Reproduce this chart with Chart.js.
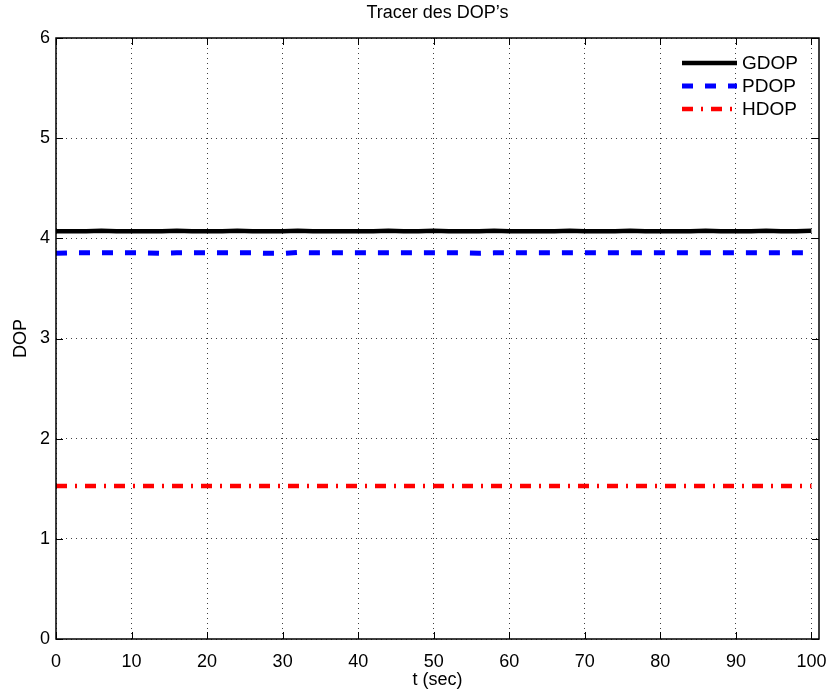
<!DOCTYPE html>
<html>
<head>
<meta charset="utf-8">
<script src="https://cdn.jsdelivr.net/npm/chart.js@4"></script>
<style>
  html, body { margin: 0; padding: 0; background: #fff; }
  canvas { display: block; }
</style>
</head>
<body>
<canvas id="myChart" width="831" height="696"></canvas>
<script>
// time axis (sec)
var tSec = [0,2,4,6,8,10,12,14,16,18,20,22,24,26,28,30,32,34,36,38,40,42,44,46,48,50,
  52,54,56,58,60,62,64,66,68,70,72,74,76,78,80,82,84,86,88,90,92,94,96,98,100];

var gdop = [4.07,4.07,4.07,4.075,4.07,4.07,4.07,4.07,4.075,4.07,4.07,4.07,4.075,4.07,4.07,4.07,4.075,4.07,4.07,4.07,4.07,4.07,4.075,4.07,4.07,4.075,
  4.07,4.07,4.07,4.075,4.07,4.07,4.07,4.07,4.075,4.07,4.07,4.07,4.075,4.07,4.07,4.07,4.07,4.075,4.07,4.07,4.07,4.075,4.07,4.07,4.075];
var pdop = [3.85,3.855,3.855,3.855,3.855,3.855,3.855,3.85,3.855,3.855,3.855,3.855,3.855,3.855,3.85,3.85,3.86,3.855,3.855,3.855,3.855,3.855,3.855,3.855,3.855,3.855,
  3.855,3.855,3.85,3.855,3.855,3.855,3.855,3.855,3.855,3.855,3.855,3.855,3.855,3.855,3.855,3.855,3.855,3.855,3.855,3.855,3.855,3.855,3.855,3.855,3.855];
var hdop = [1.527,1.527,1.527,1.527,1.527,1.527,1.527,1.527,1.527,1.527,1.527,1.527,1.527,1.527,1.527,1.527,1.527,1.527,1.527,1.527,1.527,1.527,1.527,1.527,1.527,1.527,
  1.527,1.527,1.527,1.527,1.527,1.527,1.527,1.527,1.527,1.527,1.527,1.527,1.527,1.527,1.527,1.527,1.527,1.527,1.527,1.527,1.527,1.527,1.527,1.527,1.527];

var seriesNames = ['GDOP', 'PDOP', 'HDOP'];
var xTicks = [0,10,20,30,40,50,60,70,80,90,100];
var yTicks = [0,1,2,3,4,5,6];
var chartTitle = "Tracer des DOP\u2019s";

var FONT = "'Liberation Sans', Arial, Helvetica, sans-serif";

function pts(vals){
  return tSec.map(function(t, i){ return {x: t, y: vals[i]}; });
}

// box + inward ticks like matlab, title centred over the axes
var boxPlugin = {
  id: 'box',
  afterDraw: function(chart){
    var a = chart.chartArea, ctx = chart.ctx;
    var xs = chart.scales.x, ys = chart.scales.y;
    ctx.save();
    ctx.strokeStyle = '#000';
    ctx.lineWidth = 1.5;
    ctx.strokeRect(a.left, a.top, a.right - a.left, a.bottom - a.top);
    ctx.lineWidth = 1;
    ctx.beginPath();
    xTicks.forEach(function(v){
      var px = Math.round(xs.getPixelForValue(v)) + 0.5;
      ctx.moveTo(px, a.bottom); ctx.lineTo(px, a.bottom - 7);
      ctx.moveTo(px, a.top); ctx.lineTo(px, a.top + 7);
    });
    yTicks.forEach(function(v){
      var py = Math.round(ys.getPixelForValue(v)) + 0.5;
      ctx.moveTo(a.left, py); ctx.lineTo(a.left + 7, py);
      ctx.moveTo(a.right, py); ctx.lineTo(a.right - 7, py);
    });
    ctx.stroke();

    ctx.font = '18px ' + FONT;
    ctx.fillStyle = '#000';
    ctx.textAlign = 'center';
    ctx.textBaseline = 'middle';
    ctx.fillText(chartTitle, (a.left + a.right) / 2, 13);
    ctx.restore();
  }
};

// legend drawn inside the axes, top right
var innerLegend = {
  id: 'innerLegend',
  afterDraw: function(chart){
    var a = chart.chartArea, ctx = chart.ctx;
    ctx.save();
    ctx.font = '19px ' + FONT;
    ctx.textBaseline = 'middle';
    ctx.fillStyle = '#000';
    chart.data.datasets.forEach(function(ds, i){
      var y = a.top + 25 + i * 23;
      var x0 = a.right - 137, x1 = a.right - 82;
      ctx.strokeStyle = ds.borderColor;
      ctx.lineWidth = ds.borderWidth;
      ctx.setLineDash(ds.borderDash || []);
      ctx.beginPath();
      ctx.moveTo(x0, y); ctx.lineTo(x1, y);
      ctx.stroke();
      ctx.setLineDash([]);
      ctx.fillText(ds.label, a.right - 77, y + 1);
    });
    ctx.restore();
  }
};

var ctx = document.getElementById('myChart').getContext('2d');
var myChart = new Chart(ctx, {
  type: 'line',
  data: {
    datasets: [{
      label: seriesNames[0],
      data: pts(gdop),
      borderColor: '#000000',
      borderWidth: 4.5,
      pointRadius: 0,
      tension: 0
    }, {
      label: seriesNames[1],
      data: pts(pdop),
      borderColor: '#0000ff',
      borderWidth: 5,
      borderDash: [11, 12],
      pointRadius: 0,
      tension: 0
    }, {
      label: seriesNames[2],
      data: pts(hdop),
      borderColor: '#ff0000',
      borderWidth: 4.5,
      borderDash: [11, 8, 2, 8],
      pointRadius: 0,
      tension: 0
    }]
  },
  options: {
    responsive: false,
    animation: false,
    devicePixelRatio: 1,
    layout: { padding: { left: 0, right: 12, top: 38, bottom: 0 } },
    plugins: {
      legend: { display: false },
      tooltip: { enabled: false },
      title: { display: false }
    },
    scales: {
      x: {
        type: 'linear',
        min: 0,
        max: 101,
        afterBuildTicks: function(s){ s.ticks = xTicks.map(function(v){ return {value: v}; }); },
        afterFit: function(s){ s.height = 57; s.paddingLeft = 0; s.paddingRight = 0; },
        ticks: { color: '#000', font: { family: FONT, size: 18 }, padding: 12, maxRotation: 0 },
        grid: { color: 'rgba(0,0,0,0.75)', lineWidth: 1, drawTicks: false },
        border: { display: false, dash: [1, 4] },
        title: { display: true, text: 't (sec)', color: '#000', font: { family: FONT, size: 18 }, padding: { top: 2, bottom: 5 } }
      },
      y: {
        type: 'linear',
        min: 0,
        max: 6,
        afterBuildTicks: function(s){ s.ticks = yTicks.map(function(v){ return {value: v}; }); },
        afterFit: function(s){ s.width = 56; s.paddingTop = 0; s.paddingBottom = 0; },
        ticks: { color: '#000', font: { family: FONT, size: 18 }, padding: 6 },
        grid: { color: 'rgba(0,0,0,0.75)', lineWidth: 1, drawTicks: false },
        border: { display: false, dash: [1, 4] },
        title: { display: true, text: 'DOP', color: '#000', font: { family: FONT, size: 18 }, padding: { top: 10, bottom: 0 } }
      }
    }
  },
  plugins: [boxPlugin, innerLegend]
});
</script>
</body>
</html>
